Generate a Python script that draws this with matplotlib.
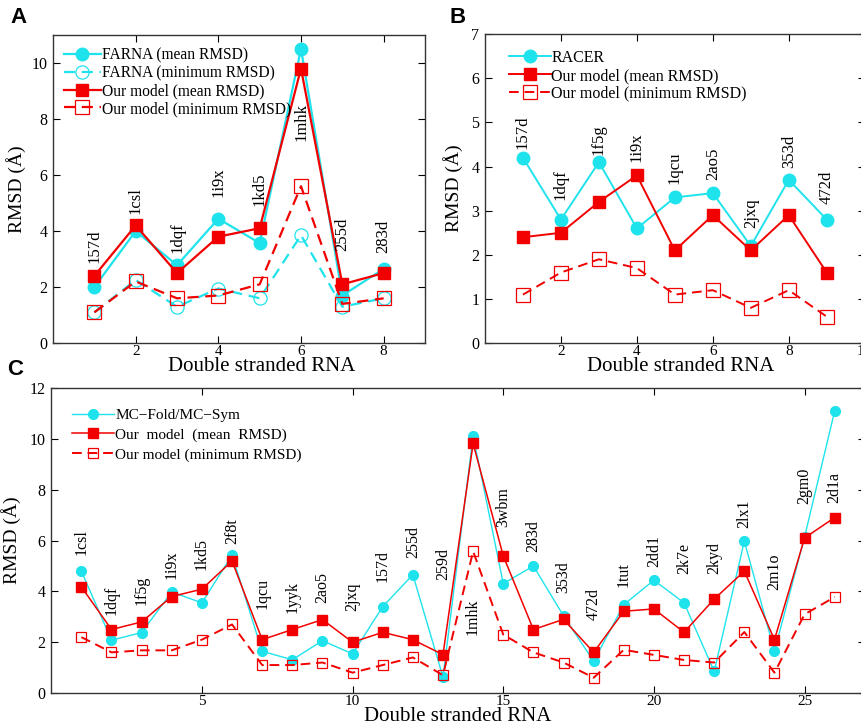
import matplotlib.pyplot as plt

plt.rcParams['font.family'] = ['Liberation Serif', 'DejaVu Serif']
plt.rcParams['mathtext.fontset'] = 'stix'

CYAN = '#1fe3ec'
RED = '#f20000'

# panel A: FARNA vs our model
a_x = [1, 2, 3, 4, 5, 6, 7, 8]
a_names = ['157d', '1csl', '1dqf', '1i9x', '1kd5', '1mhk', '255d', '283d']
a_farna_mean = [2.0, 4.0, 2.78, 4.44, 3.57, 10.5, 1.7, 2.65]
a_farna_min = [1.1, 2.25, 1.3, 1.95, 1.6, 3.85, 1.3, 1.6]
a_our_mean = [2.4, 4.2, 2.5, 3.8, 4.1, 9.8, 2.1, 2.5]
a_our_min = [1.1, 2.2, 1.6, 1.7, 2.1, 5.6, 1.4, 1.6]
a_label_y = [2.85, 4.6, 3.2, 5.2, 4.9, 7.2, 3.3, 3.2]

# panel B: RACER vs our model
b_x = [1, 2, 3, 4, 5, 6, 7, 8, 9]
b_names = ['157d', '1dqf', '1f5g', '1i9x', '1qcu', '2ao5', '2jxq', '353d', '472d']
b_racer = [4.2, 2.8, 4.1, 2.6, 3.3, 3.4, 2.2, 3.7, 2.8]
b_our_mean = [2.4, 2.5, 3.2, 3.8, 2.1, 2.9, 2.1, 2.9, 1.6]
b_our_min = [1.1, 1.6, 1.9, 1.7, 1.1, 1.2, 0.8, 1.2, 0.6]
b_label_y = [4.4, 3.25, 4.27, 4.1, 3.6, 3.7, 2.6, 3.96, 3.15]

# panel C: MC-Fold/MC-Sym vs our model
c_x = list(range(1, 27))
c_names = ['1csl', '1dqf', '1f5g', '1i9x', '1kd5', '2f8t', '1qcu', '1yyk', '2ao5',
           '2jxq', '157d', '255d', '259d', '1mhk', '3wbm', '283d', '353d', '472d',
           '1tut', '2dd1', '2k7e', '2kyd', '2lx1', '2m1o', '2gm0', '2d1a']
c_mcfold = [4.8, 2.08, 2.38, 3.98, 3.55, 5.43, 1.64, 1.31, 2.06, 1.54, 3.4, 4.66, 0.63,
            10.13, 4.31, 5.0, 3.04, 1.25, 3.48, 4.44, 3.55, 0.85, 5.98, 1.64, 6.15, 11.12]
c_our_mean = [4.18, 2.5, 2.8, 3.8, 4.09, 5.2, 2.1, 2.5, 2.89, 2.0, 2.39, 2.1, 1.51,
              9.83, 5.4, 2.5, 2.9, 1.6, 3.22, 3.31, 2.39, 3.7, 4.8, 2.1, 6.11, 6.91]
c_our_min = [2.2, 1.6, 1.68, 1.68, 2.1, 2.7, 1.1, 1.1, 1.2, 0.8, 1.1, 1.4, 0.7,
             5.58, 2.3, 1.6, 1.2, 0.6, 1.7, 1.5, 1.3, 1.2, 2.4, 0.8, 3.1, 3.78]
c_label_y = [5.43, 3.06, 3.46, 4.5, 4.84, 5.86, 3.29, 3.17, 3.55, 3.23, 4.37, 5.32, 4.44,
             2.27, 6.54, 5.56, 3.92, 2.86, 4.18, 4.97, 4.7, 4.7, 6.48, 4.05, 7.46, 7.49]

fig = plt.figure(figsize=(8.61, 7.27), dpi=100)
axA = fig.add_axes([0.0616, 0.528, 0.432, 0.424])
axB = fig.add_axes([0.5633, 0.528, 0.441, 0.425])
axC = fig.add_axes([0.0595, 0.0468, 0.945, 0.419])

DASH = (5, 3)


def style(ax):
    ax.tick_params(direction='in', top=True, right=True, length=5, width=0.8)
    ax.tick_params(axis='x', pad=1.5, labelsize=11)
    ax.tick_params(axis='y', pad=4, labelsize=11.5)
    for s in ax.spines.values():
        s.set_linewidth(1.0)
        s.set_color('#333333')


# A
axA.plot(a_x, a_farna_mean, '-o', color=CYAN, ms=9, lw=1.6, label='FARNA (mean RMSD)')
axA.plot(a_x, a_farna_min, '--o', color=CYAN, ms=9.5, lw=1.6, mfc='none', mew=0.9,
         dashes=DASH, label='FARNA (minimum RMSD)')
axA.plot(a_x, a_our_mean, '-s', color=RED, ms=9, lw=1.6, label='Our model (mean RMSD)')
axA.plot(a_x, a_our_min, '--s', color=RED, ms=9.5, lw=1.6, mfc='none', mew=0.9,
         dashes=DASH, label='Our model (minimum RMSD)')
for x, y, n in zip(a_x, a_label_y, a_names):
    axA.text(x, y, n, rotation=90, ha='center', va='bottom', fontsize=12)
axA.set_xlim(0, 9)
axA.set_ylim(0, 11)
axA.set_xticks([2, 4, 6, 8])
axA.set_yticks([0, 2, 4, 6, 8, 10])
axA.set_xlabel('Double stranded RNA', fontsize=15)
axA.xaxis.set_label_coords(0.56, -0.046)
axA.set_ylabel('RMSD (Å)', fontsize=14, labelpad=4)
style(axA)
axA.legend(loc='upper left', bbox_to_anchor=(-0.005, 1.0), frameon=False, fontsize=11.2,
           handlelength=2.4, handletextpad=0.05, labelspacing=0.12, borderaxespad=0.4)

# B
axB.plot(b_x, b_racer, '-o', color=CYAN, ms=9, lw=1.4, label='RACER')
axB.plot(b_x, b_our_mean, '-s', color=RED, ms=9, lw=1.4, label='Our model (mean RMSD)')
axB.plot(b_x, b_our_min, '--s', color=RED, ms=9.5, lw=1.4, mfc='none', mew=0.9,
         dashes=DASH, label='Our model (minimum RMSD)')
for x, y, n in zip(b_x, b_label_y, b_names):
    axB.text(x, y, n, rotation=90, ha='center', va='bottom', fontsize=12)
axB.set_xlim(0, 10)
axB.set_ylim(0, 7)
axB.set_xticks([2, 4, 6, 8, 10])
axB.set_yticks(range(0, 8))
axB.set_xlabel('Double stranded RNA', fontsize=15)
axB.xaxis.set_label_coords(0.515, -0.046)
axB.set_ylabel('RMSD (Å)', fontsize=14, labelpad=6)
style(axB)
axB.legend(loc='upper left', bbox_to_anchor=(0.03, 0.99), frameon=False, fontsize=11.5,
           handlelength=2.6, handletextpad=0.05, labelspacing=0.12, borderaxespad=0.4)

# C
axC.plot(c_x, c_mcfold, '-o', color=CYAN, ms=7, lw=1.0, label='MC\u2212Fold/MC\u2212Sym')
axC.plot(c_x, c_our_mean, '-s', color=RED, ms=7, lw=1.1, label='Our  model  (mean  RMSD)')
axC.plot(c_x, c_our_min, '--s', color=RED, ms=7.5, lw=1.4, mfc='none', mew=0.9,
         dashes=DASH, label='Our model (minimum RMSD)')
for x, y, n in zip(c_x, c_label_y, c_names):
    axC.text(x, y, n, rotation=90, ha='center', va='bottom', fontsize=11.5)
axC.set_xlim(0, 27)
axC.set_ylim(0, 12)
axC.set_xticks([5, 10, 15, 20, 25])
axC.set_yticks(range(0, 13, 2))
axC.set_xlabel('Double stranded RNA', fontsize=15)
axC.xaxis.set_label_coords(0.5, -0.045)
axC.set_ylabel('RMSD (Å)', fontsize=14, labelpad=6)
style(axC)
axC.legend(loc='upper left', bbox_to_anchor=(0.01, 0.975), frameon=False, fontsize=11,
           handlelength=2.8, handletextpad=0.05, labelspacing=0.4, borderaxespad=0.4)

fig.text(0.012, 0.968, 'A', fontsize=16, fontweight='bold', family='Liberation Sans')
fig.text(0.522, 0.968, 'B', fontsize=16, fontweight='bold', family='Liberation Sans')
fig.text(0.008, 0.484, 'C', fontsize=16, fontweight='bold', family='Liberation Sans')

fig.savefig('out.png', dpi=100)
